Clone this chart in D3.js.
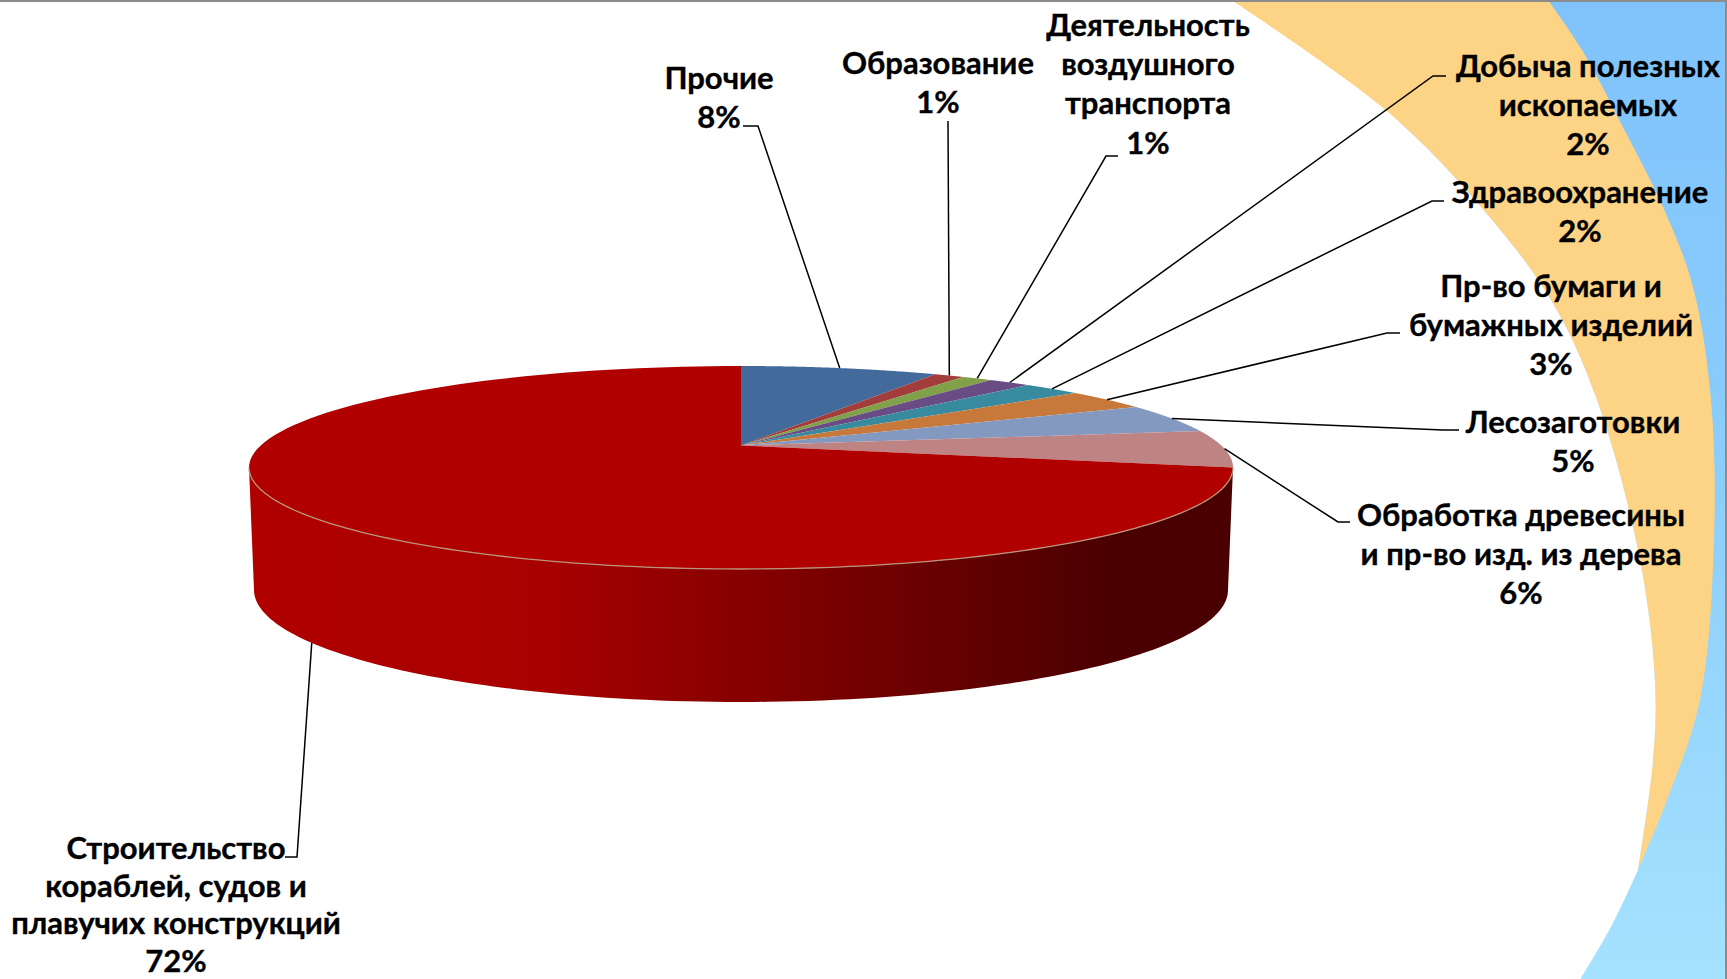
<!DOCTYPE html>
<html><head><meta charset="utf-8">
<script src="https://cdn.jsdelivr.net/npm/d3@7"></script>
<style>html,body{margin:0;padding:0;background:#fff;overflow:hidden}svg{display:block}
text{font-family:Lato,"Open Sans",sans-serif;font-weight:700;fill:#000;stroke:#000;stroke-width:.35px}</style></head>
<body><svg id="c" width="1727" height="979"></svg>
<script>
const categories=["Прочие","Образование","Деятельность воздушного транспорта","Добыча полезных ископаемых","Здравоохранение","Пр-во бумаги и бумажных изделий","Лесозаготовки","Обработка древесины и пр-во изд. из дерева","Строительство кораблей, судов и плавучих конструкций"];
const values=[8,1.2,1.25,1.7,2.3,3.4,4.7,5.95,71.5];
const colors=["#426a9a","#a33d3c","#80a04a","#6a4c85","#388b9f","#c6793a","#8499bf","#be8383","#b00000"];
const labelLines=[["Прочие"],["Образование"],["Деятельность","воздушного","транспорта"],["Добыча полезных","ископаемых"],["Здравоохранение"],["Пр-во бумаги и","бумажных изделий"],["Лесозаготовки"],["Обработка древесины","и пр-во изд. из дерева"],["Строительство","кораблей, судов и","плавучих конструкций"]];
const labelX=[719,938,1148,1588,1580,1551,1573,1521,176];
const labelTop=[78,63,25,66,192,286,422,515,848];
const lineGap=[39.3,39.3,39.3,39.3,39.3,39.3,39.3,39.3,37.7];
const elbowStart=[[743,126],[948,121],[1118,156],[1446,76],[1444,201],[1400,333],[1459,430],[1350,522],[285,857]];
const elbowEnd=[[758,126],[948,121],[1106,156],[1433,76],[1432,201],[1387,333],[1443,430],[1338,522],[297,857]];
const bandInner=[[1225,-4],[1389,113],[1481,207],[1551,300],[1597,400],[1640,560],[1655,683],[1653,760],[1638,870]];
const bandOuter=[[1545,-4],[1582,50],[1626,133],[1663,207],[1693,287],[1711,400],[1714,540],[1700,700],[1667,800],[1638,870]];
const whiteTail=[[1638,870],[1612,925],[1578,983]];

const svg=d3.select("#c");
const defs=svg.append("defs");
const sky=defs.append("linearGradient").attr("id","sky").attr("x1",0).attr("y1",0).attr("x2",0).attr("y2",1);
sky.append("stop").attr("offset",0).attr("stop-color","#80c3fb");
sky.append("stop").attr("offset",.45).attr("stop-color","#8accfb");
sky.append("stop").attr("offset",1).attr("stop-color","#a5e2ff");
const wall=defs.append("linearGradient").attr("id","wall").attr("gradientUnits","userSpaceOnUse").attr("x1",249).attr("x2",1233).attr("y1",0).attr("y2",0);
wall.append("stop").attr("offset",0).attr("stop-color","#b00000");
wall.append("stop").attr("offset",.3).attr("stop-color","#a80000");
wall.append("stop").attr("offset",.88).attr("stop-color","#4a0000");
wall.append("stop").attr("offset",1).attr("stop-color","#4a0000");

// background swooshes
const smooth=d3.line().curve(d3.curveCatmullRom.alpha(.5));
svg.append("rect").attr("x",1400).attr("y",0).attr("width",327).attr("height",979).attr("fill","url(#sky)");
svg.append("path").attr("fill","#fff").attr("d",smooth(whiteTail)+"L1400,983L1400,870Z");
svg.append("path").attr("fill","#fdd385").attr("d",(()=>{const a=smooth(bandInner),b=smooth(bandOuter.slice().reverse());return a+"L"+b.slice(1)+"Z";})());
svg.append("path").attr("fill","#fff").attr("d",smooth(bandInner)+"L1200,870L1200,-4Z");

// pie geometry: a perspective view of a disc, so the apex sits behind the ellipse centre
const tilt=.217, sq=Math.sqrt(1-tilt*tilt);
const px=d3.scaleLinear().domain([-1,1]).range([249,1233]);
const py=d3.scaleLinear().domain([-1,1]).range([366,569]);
const bx=d3.scaleLinear().domain([-1,1]).range([254,1228]);
const by=d3.scaleLinear().domain([-1,1]).range([478,702]);
function proj(a){const u=Math.sin(a),v=-Math.cos(a),w=1-tilt*v;return [u*sq/w,(v-tilt)/w];}
const arcs=d3.pie().sort(null).value(d=>d)(values);
const poly=d3.line();
const rimPts=(a0,a1,X,Y)=>d3.range(0,121).map(i=>{const p=proj(a0+(a1-a0)*i/120);return [X(p[0]),Y(p[1])];});

// side wall: only the front half of the rim is visible
const frontA=Math.PI/2+Math.asin(tilt), backA=3*Math.PI/2-Math.asin(tilt);
const topFront=rimPts(frontA,backA,px,py), botFront=rimPts(backA,frontA,bx,by);
svg.append("path").attr("fill","url(#wall)").attr("d",poly([...topFront,...botFront])+"Z");

arcs.forEach((d,i)=>{
  const pts=[[px(0),py(-tilt)],...rimPts(d.startAngle,d.endAngle,px,py)];
  svg.append("path").attr("fill",colors[i]).attr("d",poly(pts)+"Z");
});
svg.append("path").attr("fill","none").attr("stroke","#b8957c").attr("stroke-width",1.3).attr("d",poly(topFront));

// leaders
arcs.forEach((d,i)=>{
  const m=proj((d.startAngle+d.endAngle)/2);
  const end=i===arcs.length-1?[bx(m[0]),by(m[1])]:[px(m[0]),py(m[1])];
  svg.append("path").attr("fill","none").attr("stroke","#000").attr("stroke-width",1.5)
    .attr("d",poly([elbowStart[i],elbowEnd[i],end]));
});

// labels
categories.forEach((c,i)=>{
  const t=svg.append("text").attr("text-anchor","middle").attr("font-size",31);
  [...labelLines[i],Math.round(values[i])+"%"].forEach((s,j)=>{
    t.append("tspan").attr("x",labelX[i]).attr("y",labelTop[i]+j*lineGap[i]).attr("dy","0.35em").text(s);
  });
});

// frame
svg.append("rect").attr("x",0).attr("y",0).attr("width",1727).attr("height",2).attr("fill","#8c8c8c");
svg.append("rect").attr("x",1725).attr("y",0).attr("width",2).attr("height",979).attr("fill","#8c8c8c");
</script></body></html>
